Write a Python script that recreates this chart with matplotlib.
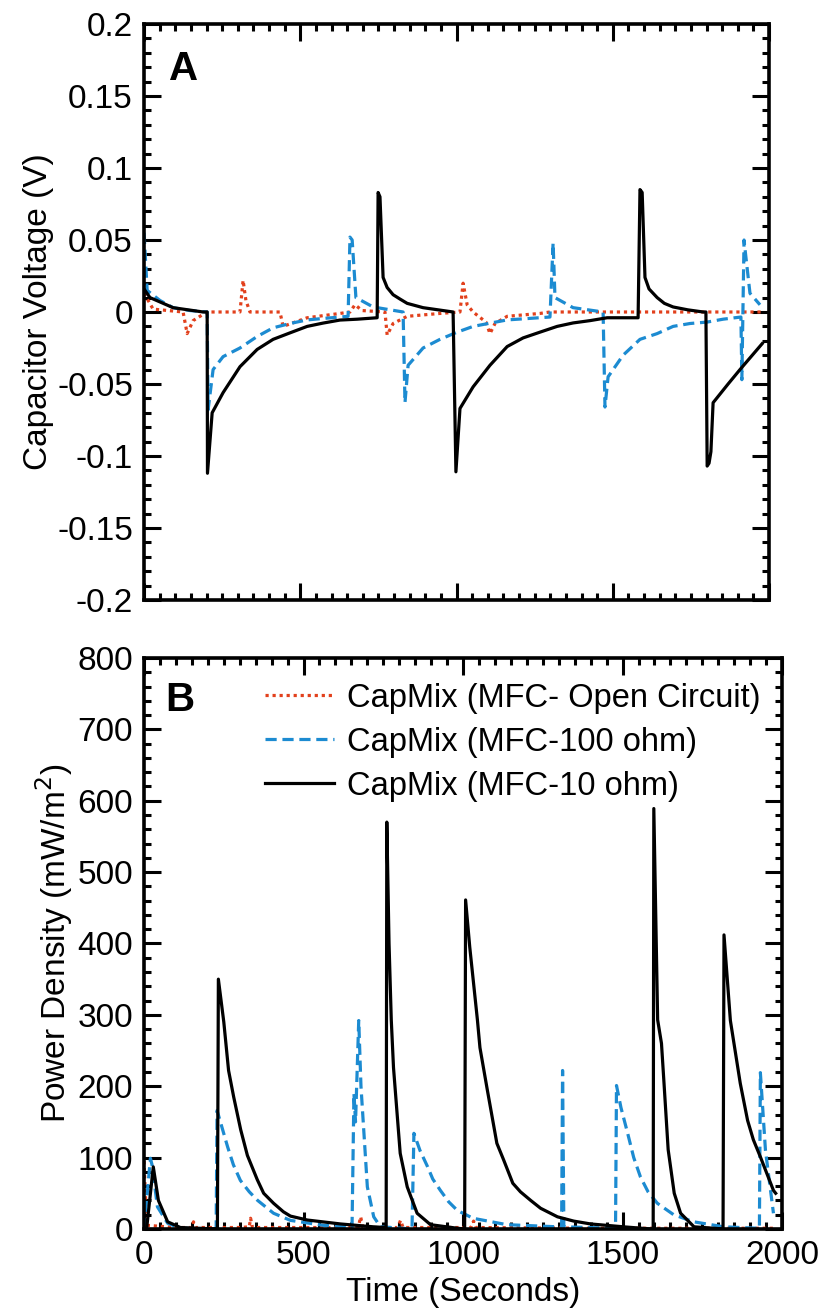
import matplotlib
matplotlib.use("Agg")
import matplotlib.pyplot as plt
from matplotlib.ticker import MultipleLocator

plt.rcParams['font.family'] = ['Liberation Sans', 'DejaVu Sans']

# ---- panel A: capacitor voltage (V) ----
t_open_a = [0, 29, 125, 138, 157, 179, 202, 307, 317, 326, 339, 435, 445, 522, 627, 659, 675, 698,
            771, 778, 797, 842, 947, 1011, 1021, 1034, 1053, 1094, 1107, 1123, 1162, 1267, 1299, 1980]
v_open_a = [0.013, 0.002, 0.0, -0.015, -0.006, -0.003, 0.0, 0.0, 0.022, 0.008, 0.0, 0.0, -0.010, -0.004,
            -0.001, 0.0, 0.005, 0.001, 0.0, -0.016, -0.008, -0.003, -0.001, 0.0, 0.020, 0.005, 0.0,
            -0.007, -0.015, -0.008, -0.003, -0.001, 0.0, 0.0]

t_100_a = [0, 10, 51, 93, 147, 202, 205, 221, 253, 307, 362, 413, 467, 522, 573, 627, 653, 659, 666,
           678, 733, 829, 835, 845, 893, 947, 1002, 1053, 1162, 1299, 1309, 1315, 1373, 1469, 1475,
           1485, 1533, 1587, 1642, 1693, 1747, 1802, 1853, 1910, 1913, 1920, 1925, 1939, 1971]
v_100_a = [0.055, 0.015, 0.008, 0.003, 0.001, 0.0, -0.068, -0.040, -0.031, -0.025, -0.017, -0.011,
           -0.008, -0.0055, -0.0045, -0.0035, -0.003, 0.052, 0.050, 0.010, 0.0035, 0.0, -0.063, -0.037,
           -0.025, -0.019, -0.014, -0.010, -0.0055, -0.0035, 0.048, 0.010, 0.003, 0.0, -0.066, -0.045,
           -0.030, -0.019, -0.015, -0.010, -0.008, -0.007, -0.005, -0.0035, -0.047, 0.050, 0.040,
           0.013, 0.005]

t_10_a = [0, 19, 93, 189, 202, 203, 218, 253, 307, 362, 413, 467, 522, 573, 627, 682, 746, 749, 755,
          765, 778, 797, 819, 842, 893, 925, 989, 998, 1011, 1053, 1107, 1162, 1213, 1267, 1322, 1373,
          1427, 1482, 1533, 1581, 1587, 1594, 1603, 1616, 1642, 1665, 1693, 1740, 1789, 1798, 1802,
          1808, 1814, 1821, 1869, 1907, 1978]
v_10_a = [0.016, 0.010, 0.003, 0.0, 0.0, -0.112, -0.070, -0.056, -0.038, -0.026, -0.019, -0.0145,
          -0.010, -0.0077, -0.0056, -0.005, -0.004, 0.083, 0.080, 0.024, 0.017, 0.012, 0.009, 0.006,
          0.003, 0.002, 0.0, -0.111, -0.067, -0.052, -0.037, -0.024, -0.018, -0.014, -0.010, -0.0076,
          -0.006, -0.004, -0.004, -0.004, 0.085, 0.083, 0.024, 0.016, 0.010, 0.006, 0.0035, 0.0015,
          0.0, 0.0, -0.107, -0.105, -0.097, -0.063, -0.050, -0.040, -0.022]

# ---- panel B: power density (mW/m2) ----
t_open_b = [0, 5, 12, 100, 150, 155, 162, 300, 330, 334, 340, 600, 672, 679, 686, 795, 804, 812,
            1025, 1033, 1040, 1400, 1700, 1975]
p_open_b = [95, 40, 5, 2, 2, 10, 2, 2, 3, 15, 2, 2, 3, 17, 2, 2, 12, 2, 2, 11, 2, 1, 1, 1]

t_100_b = [0, 2, 20, 25, 42, 74, 114, 226, 229, 262, 280, 302, 330, 356, 406, 459, 563, 638, 652,
           658, 663, 673, 680, 700, 720, 741, 840, 846, 865, 889, 905, 929, 955, 982, 1031, 1137,
           1296, 1309, 1312, 1316, 1470, 1478, 1481, 1495, 1516, 1535, 1556, 1580, 1609, 1660, 1723,
           1817, 1925, 1929, 1932, 1948, 1973]
p_100_b = [0, 10, 99, 90, 31, 8, 1, 0, 166, 115, 90, 68, 52, 40, 22, 12, 5, 3, 2, 190, 150, 292,
           200, 59, 17, 3, 0, 134, 110, 87, 70, 54, 38, 26, 15, 6, 3, 3, 222, 3, 1, 1, 201, 170, 134,
           100, 73, 52, 36, 20, 10, 3, 1, 1, 219, 110, 22]

t_10_b = [0, 8, 29, 45, 74, 114, 227, 230, 233, 250, 265, 281, 303, 324, 355, 375, 406, 437, 459,
          512, 616, 719, 757, 759, 761, 768, 775, 782, 803, 825, 856, 898, 982, 1005, 1008, 1021,
          1045, 1053, 1076, 1106, 1127, 1156, 1180, 1212, 1243, 1296, 1347, 1400, 1503, 1588, 1596,
          1598, 1610, 1622, 1630, 1643, 1662, 1682, 1724, 1815, 1818, 1838, 1869, 1892, 1910, 1932,
          1973, 1980]
p_10_b = [0, 0, 87, 40, 10, 2, 0, 0, 350, 290, 222, 185, 139, 103, 69, 50, 36, 24, 18, 12.5, 7, 3,
          2, 2, 570, 400, 293, 226, 106, 59, 22, 6, 1, 0, 461, 395, 293, 254, 195, 120, 97, 64, 52,
          40, 29, 17, 11, 7, 3, 0, 0, 589, 293, 260, 204, 111, 50, 22, 3, 0, 412, 292, 204, 152,
          125, 101, 54, 50]

labels = ['CapMix (MFC- Open Circuit)', 'CapMix (MFC-100 ohm)', 'CapMix (MFC-10 ohm)']
red = '#e2401c'
blue = '#1c8bd1'
fs = 24

fig = plt.figure(figsize=(8.24, 13.12), dpi=100)
ax1 = fig.add_axes([0.1748, 0.5427, 0.7585, 0.439])
ax2 = fig.add_axes([0.1748, 0.0633, 0.7743, 0.4352])

lw = 2.3
for ax, (to, vo, t1, v1, t2, v2) in [(ax1, (t_open_a, v_open_a, t_100_a, v_100_a, t_10_a, v_10_a)),
                                    (ax2, (t_open_b, p_open_b, t_100_b, p_100_b, t_10_b, p_10_b))]:
    ax.plot(to, vo, color=red, linewidth=lw, linestyle=(0, (1, 1.2)), label=labels[0])
    ax.plot(t1, v1, color=blue, linewidth=lw, linestyle=(0, (3.5, 1.8)), label=labels[1])
    ax.plot(t2, v2, color='black', linewidth=lw, label=labels[2])
    ax.set_xlim(0, 2000)
    ax.xaxis.set_major_locator(MultipleLocator(500))
    ax.xaxis.set_minor_locator(MultipleLocator(50))
    ax.tick_params(which='both', direction='in', top=True, right=True, labelsize=fs, pad=8)
    ax.tick_params(which='major', length=12, width=2.2)
    ax.tick_params(which='minor', length=5, width=2.2)
    for s in ax.spines.values():
        s.set_linewidth(2.6)

ax1.set_ylim(-0.2, 0.2)
ax1.yaxis.set_minor_locator(MultipleLocator(0.01))
ax1.set_yticks([0.2, 0.15, 0.1, 0.05, 0, -0.05, -0.1, -0.15, -0.2])
ax1.set_yticklabels(['0.2', '0.15', '0.1', '0.05', '0', '-0.05', '-0.1', '-0.15', '-0.2'])
ax1.tick_params(labelbottom=False)
ax1.set_ylabel('Capacitor Voltage (V)', fontsize=fs, labelpad=2)
ax1.text(0.04, 0.955, 'A', transform=ax1.transAxes, fontsize=29, fontweight='bold', va='top')

ax2.set_ylim(0, 800)
ax2.yaxis.set_major_locator(MultipleLocator(100))
ax2.yaxis.set_minor_locator(MultipleLocator(20))
ax2.set_xlabel('Time (Seconds)', fontsize=fs, labelpad=4)
ax2.set_ylabel('Power Density (mW/m$^2$)', fontsize=fs, labelpad=2)
ax2.text(0.033, 0.96, 'B', transform=ax2.transAxes, fontsize=29, fontweight='bold', va='top')
ax2.legend(loc='upper left', bbox_to_anchor=(0.19, 0.957), frameon=False, fontsize=23.5,
           handlelength=2.1, handletextpad=0.4, labelspacing=0.4, borderpad=0, borderaxespad=0)

fig.savefig('out.png', dpi=100)
